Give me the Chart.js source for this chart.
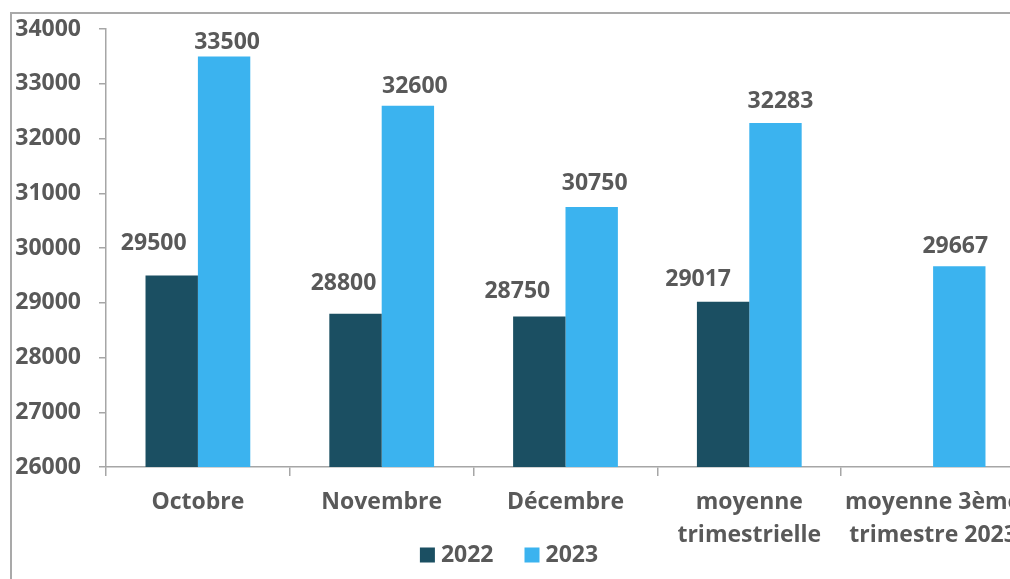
<!DOCTYPE html>
<html>
<head>
<meta charset="utf-8">
<script src="https://cdn.jsdelivr.net/npm/chart.js@4"></script>
<style>
  html, body { margin: 0; padding: 0; overflow: hidden; background: #fff; }
  #frame { position: absolute; left: 10px; top: 12px; width: 1100px; height: 700px;
           border-left: 2px solid #a9a9a9; border-top: 2px solid #a9a9a9; }
  #wrap { position: absolute; left: 0; top: 0; width: 1040px; height: 579px; }
</style>
</head>
<body>
<div id="frame"></div>
<div id="wrap"><canvas id="chart"></canvas></div>
<script>
const categories = [
  "Octobre",
  "Novembre",
  "Décembre",
  ["moyenne", "trimestrielle"],
  ["moyenne 3ème", "trimestre 2023"]
];
const values2022 = [29500, 28800, 28750, 29017, null];
const values2023 = [33500, 32600, 30750, 32283, 29667];
const yMin = 26000;
const yMax = 34000;
const yStep = 1000;

// label nudges relative to the top of each bar (as placed in the original)
const shift2022 = [[-18, -32], [-12, -30], [-22, -25], [-25, -22], [0, 0]];
const shift2023 = [[3, -14], [7, -19], [3, -23], [5, -22], [-4, -20]];

const textColor = "#595959";
const axisColor = "#a6a6a6";
const fontFamily = "'Open Sans', sans-serif";
const boldFont = "bold 23px " + fontFamily;

Chart.defaults.font.family = fontFamily;
Chart.defaults.color = textColor;

const valueLabels = {
  id: "valueLabels",
  afterDatasetsDraw(chart) {
    const ctx = chart.ctx;
    ctx.save();
    ctx.font = boldFont;
    ctx.fillStyle = textColor;
    ctx.textAlign = "center";
    ctx.textBaseline = "middle";
    chart.data.datasets.forEach((ds, di) => {
      const meta = chart.getDatasetMeta(di);
      const shifts = di === 0 ? shift2022 : shift2023;
      meta.data.forEach((bar, i) => {
        const v = ds.data[i];
        if (v === null || v === undefined) return;
        ctx.fillText(String(v), bar.x + shifts[i][0], bar.y + shifts[i][1]);
      });
    });
    ctx.restore();
  }
};

// legend drawn by hand so it can sit close under the two-line axis labels
const bottomLegend = {
  id: "bottomLegend",
  afterDraw(chart) {
    const ctx = chart.ctx;
    const box = 15, gap = 6, spacing = 31, centerX = 509, centerY = 555;
    ctx.save();
    ctx.font = boldFont;
    ctx.textBaseline = "middle";
    ctx.textAlign = "left";
    const items = chart.data.datasets.map(ds => ({
      text: ds.label, color: ds.backgroundColor, w: ctx.measureText(ds.label).width
    }));
    let total = items.reduce((s, it) => s + box + gap + it.w, 0) + spacing * (items.length - 1);
    let x = centerX - total / 2;
    items.forEach(it => {
      ctx.fillStyle = it.color;
      ctx.fillRect(x, centerY - box / 2, box, box);
      ctx.fillStyle = textColor;
      ctx.fillText(it.text, x + box + gap, centerY);
      x += box + gap + it.w + spacing;
    });
    ctx.restore();
  }
};

new Chart(document.getElementById("chart").getContext("2d"), {
  type: "bar",
  data: {
    labels: categories,
    datasets: [
      {
        label: "2022",
        data: values2022,
        backgroundColor: "#1b4f62",
        borderWidth: 0,
        categoryPercentage: 0.57,
        barPercentage: 1
      },
      {
        label: "2023",
        data: values2023,
        backgroundColor: "#3bb3ef",
        borderWidth: 0,
        categoryPercentage: 0.57,
        barPercentage: 1
      }
    ]
  },
  options: {
    responsive: true,
    maintainAspectRatio: false,
    animation: false,
    layout: { padding: { left: 0, right: 15, top: 29, bottom: 0 } },
    plugins: {
      tooltip: { enabled: false },
      legend: { display: false }
    },
    scales: {
      x: {
        grid: {
          display: true,
          drawOnChartArea: false,
          drawTicks: true,
          tickLength: 9,
          color: axisColor,
          lineWidth: 1.5
        },
        border: { color: axisColor, width: 1.5 },
        ticks: {
          color: textColor,
          font: { size: 23, weight: "bold", lineHeight: 1.43 },
          padding: 10,
          maxRotation: 0,
          autoSkip: false
        },
        afterFit(scale) { scale.height = 112; }
      },
      y: {
        min: yMin,
        max: yMax,
        grid: {
          display: true,
          drawOnChartArea: false,
          drawTicks: true,
          tickLength: 7,
          color: axisColor,
          lineWidth: 1.5
        },
        border: { color: axisColor, width: 1.5 },
        ticks: {
          stepSize: yStep,
          color: textColor,
          padding: 18,
          font: { size: 23, weight: "bold", lineHeight: 0.8 },
          callback: (v) => String(v)
        },
        afterFit(scale) { scale.width = 106; }
      }
    }
  },
  plugins: [valueLabels, bottomLegend]
});
</script>
</body>
</html>
